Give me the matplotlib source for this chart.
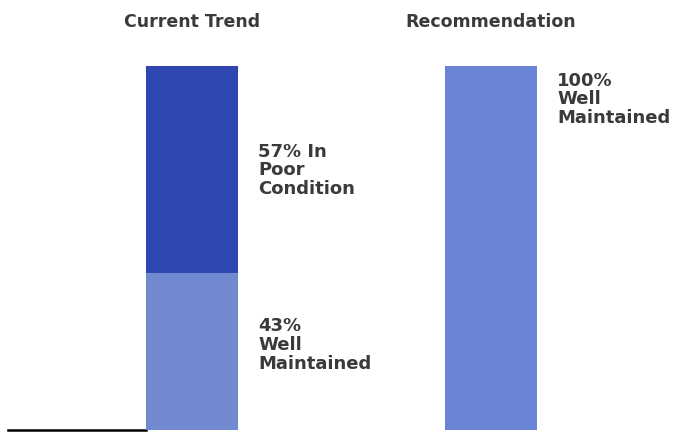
import matplotlib
matplotlib.use('Agg')
import matplotlib.pyplot as plt

# data
groups = ['Current Trend', 'Recommendation']
well_maintained = [43, 100]
poor_condition = [57, 0]
labels_well = ['43%\nWell\nMaintained', '100%\nWell\nMaintained']
label_poor = '57% In\nPoor\nCondition'

dark_blue = '#2f47b3'
light_blue = '#7189d1'
rec_blue = '#6b84d6'
text_col = '#3a3a3a'

fig = plt.figure(figsize=(6.76, 4.32), dpi=100)
ax = fig.add_axes([0, 0, 1, 1])

x = [0, 1]
width = 0.308
ax.bar(x, well_maintained, width, color=[light_blue, rec_blue], zorder=2)
ax.bar(x, poor_condition, width, bottom=well_maintained, color=dark_blue, zorder=2)

ax.set_xlim(-0.642, 1.619)
ax.set_ylim(-0.55, 118.1)

# baseline only left of the first bar
for s in ['top', 'right', 'left']:
    ax.spines[s].set_visible(False)
ax.spines['bottom'].set_position(('data', 0))
ax.spines['bottom'].set_bounds(-0.615, x[0] - width / 2)
ax.spines['bottom'].set_linewidth(1.8)
ax.spines['bottom'].set_zorder(1)
ax.set_xticks([])
ax.set_yticks([])

font = dict(fontsize=13, fontweight='bold', color=text_col, va='top', ha='left',
            linespacing=1.05)
gap = 0.067
ax.text(x[0] + width / 2 + gap, well_maintained[0] + poor_condition[0] * 0.63, label_poor, **font)
ax.text(x[0] + width / 2 + gap, well_maintained[0] * 0.72, labels_well[0], **font)
ax.text(x[1] + width / 2 + gap, well_maintained[1] * 0.984, labels_well[1], **font)

for xi, g in zip(x, groups):
    ax.text(xi, 112, g, fontsize=12.5, fontweight='semibold', color=text_col,
            ha='center', va='center')

fig.savefig('out.png', dpi=100)
